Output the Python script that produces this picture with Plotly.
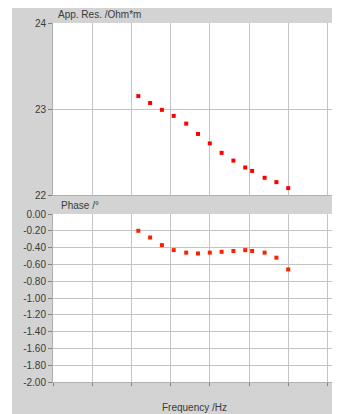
import plotly.graph_objects as go

# ---- data ----
freq_hz = [150, 300, 600, 1200, 2500, 5000, 10000, 20000, 40000, 80000,
           120000, 250000, 500000, 1000000]
app_res = [23.15, 23.07, 22.99, 22.92, 22.83, 22.71, 22.60, 22.49, 22.40,
           22.32, 22.28, 22.20, 22.15, 22.08]
phase = [-0.20, -0.28, -0.37, -0.43, -0.46, -0.47, -0.46, -0.45, -0.44,
         -0.43, -0.44, -0.46, -0.52, -0.66]
res_ticks = [22, 23, 24]
res_ticktext = ["22", "23", "24"]
phase_ticks = [-2.0, -1.8, -1.6, -1.4, -1.2, -1.0, -0.8, -0.6, -0.4, -0.2, 0.0]
phase_ticktext = ["-2.00", "-1.80", "-1.60", "-1.40", "-1.20", "-1.00",
                  "-0.80", "-0.60", "-0.40", "-0.20", "0.00"]

# page body has an 8px margin; work in page pixels and shift
OFF = 8
W, H = 340 - OFF, 414 - OFF
ML, MT = 53 - OFF, 23 - OFF
MR = W - (338 - OFF)
MB = H - (382 - OFF)
PW, PH = W - ML - MR, H - MT - MB

def py(p):  # page pixel y -> paper y
    return (H - MB - (p - OFF)) / PH

def px(p):  # page pixel x -> paper x
    return ((p - OFF) - ML) / PW

GRAY = "#d3d3d3"
GRID = "#c4c4c4"
TXT = "#3a3a3a"
FONT = "Liberation Sans, Arial, sans-serif"

fig = go.Figure()
fig.add_trace(go.Scatter(x=freq_hz, y=app_res, mode="markers",
                         marker=dict(symbol="square", size=4, color="#ff0000"),
                         xaxis="x", yaxis="y", showlegend=False))
fig.add_trace(go.Scatter(x=freq_hz, y=phase, mode="markers",
                         marker=dict(symbol="square", size=4, color="#ff2000"),
                         xaxis="x2", yaxis="y2", showlegend=False))

axis_common = dict(showgrid=True, gridcolor=GRID, gridwidth=1, zeroline=False,
                   showline=True, linecolor="#b0b0b0", linewidth=1,
                   tickfont=dict(family=FONT, size=10, color=TXT))

fig.update_layout(
    width=W, height=H,
    margin=dict(l=ML, r=MR, t=MT, b=MB),
    paper_bgcolor=GRAY, plot_bgcolor="white",
    font=dict(family=FONT, size=10, color=TXT),
    xaxis=dict(type="log", range=[0, 7.27], dtick=1, showticklabels=False,
               ticks="", anchor="y", domain=[0, 1], **axis_common),
    yaxis=dict(range=[22, 24], tickvals=res_ticks, ticktext=res_ticktext,
               ticks="outside", ticklen=4, tickcolor="#808080",
               domain=[py(195), 1], anchor="x", **axis_common),
    xaxis2=dict(type="log", range=[0, 7.27], dtick=1, showticklabels=False,
                ticks="outside", ticklen=3, tickcolor="#808080",
                anchor="y2", matches="x", domain=[0, 1], **axis_common),
    yaxis2=dict(range=[-2.0, 0.0], tickvals=phase_ticks, ticktext=phase_ticktext,
                ticks="outside", ticklen=4, tickcolor="#808080",
                domain=[0, py(214)], anchor="x2", **axis_common),
    shapes=[
        dict(type="rect", xref="paper", yref="paper", x0=px(0), x1=px(12),
             y0=py(420), y1=py(0), fillcolor="white", line=dict(width=0)),
    ],
    annotations=[
        dict(text="App. Res. /Ohm*m", xref="paper", yref="paper",
             x=px(56), y=py(15), xanchor="left", yanchor="middle",
             showarrow=False, font=dict(family=FONT, size=10, color=TXT)),
        dict(text="Phase /°", xref="paper", yref="paper",
             x=px(59), y=py(205), xanchor="left", yanchor="middle",
             showarrow=False, font=dict(family=FONT, size=10, color=TXT)),
        dict(text="Frequency /Hz", xref="paper", yref="paper",
             x=px(194), y=py(407), xanchor="center", yanchor="middle",
             showarrow=False, font=dict(family=FONT, size=10, color=TXT)),
    ],
)

fig.write_html("out.html")
